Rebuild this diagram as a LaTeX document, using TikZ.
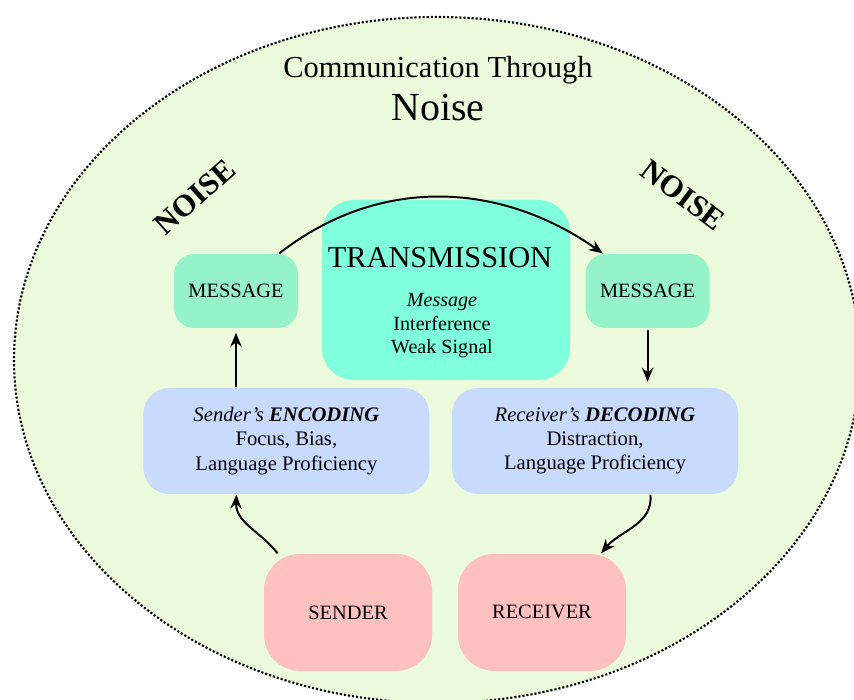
\documentclass[tikz,border=0pt]{standalone}
\usepackage{fontspec}
\setmainfont{Liberation Serif}
\usetikzlibrary{arrows.meta}
\definecolor{noisebg}{RGB}{235,251,219}
\definecolor{msggreen}{RGB}{150,242,200}
\definecolor{transcol}{RGB}{127,255,220}
\definecolor{codecol}{RGB}{201,218,255}
\definecolor{personcol}{RGB}{255,192,192}
\begin{document}
\begin{tikzpicture}
                            [thick,
                            box/.style = {align=center, inner sep=0pt},
                            msg/.style = {box, fill=msggreen, rounded corners=0.5cm,
                                        minimum width=3.1cm, minimum height=1.85cm,
                                        font=\fontsize{14.5}{17}\selectfont},
                            code/.style = {box, fill=codecol, rounded corners=0.65cm,
                                        minimum width=7.15cm, minimum height=2.65cm,
                                        font=\fontsize{14.7}{17.2}\selectfont},
                            person/.style = {box, fill=personcol, rounded corners=0.9cm,
                                        minimum width=4.2cm, minimum height=2.925cm,
                                        font=\fontsize{14.5}{17}\selectfont},
                            noise/.style = {font=\fontsize{22}{24}\selectfont\bfseries},
                            flow/.style = {-{Stealth[length=10pt,width=8pt]}, line width=1.4pt}]
                            \useasboundingbox (0,0) rectangle (21.35,-17.5);
                            \draw[fill=noisebg, line width=1.5pt, dash pattern=on 1.5pt off 1.4pt] (10.925,-9.0) ellipse (10.575 and 8.575);
                            \node[font=\fontsize{21.7}{24}\selectfont] (title) at (10.95,-1.75) {Communication Through};
                            \node[font=\fontsize{28.3}{30}\selectfont] (titlenoise) at (10.95,-2.7) {Noise};
                            \node[noise, rotate=42] (noiseL) at (4.875,-4.925) {NOISE};
                            \node[noise, rotate=-37] (noiseR) at (17.075,-4.875) {NOISE};
                            \node[box, fill=transcol, rounded corners=0.8cm,
                                minimum width=6.2cm, minimum height=4.5cm] (trans) at (11.15,-7.25) {};
                            \node[font=\fontsize{21.6}{24}\selectfont] (transtitle) at (11.0,-6.45) {TRANSMISSION};
                            \node[align=center, font=\fontsize{14.3}{16.7}\selectfont] (transbody) at (11.05,-8.15)
                                {\textit{Message}\\Interference\\Weak Signal};
                            \node[msg] (msgL) at (5.9,-7.275) {MESSAGE};
                            \node[msg] (msgR) at (16.19,-7.275) {MESSAGE};
                            \node[code] (enc) at (7.16,-11.025)
                                {\textit{Sender's \textbf{ENCODING}}\\Focus, Bias,\\Language Proficiency};
                            \node[code] (dec) at (14.875,-11.025)
                                {\textit{Receiver's \textbf{DECODING}}\\Distraction,\\Language Proficiency};
                            \node[person] (sender) at (8.7,-15.31) {SENDER};
                            \node[person] (receiver) at (13.55,-15.31) {RECEIVER};
                            \draw[flow] (msgL.41) to[out=38,in=145] (msgR.140);
                            \draw[flow, shorten >=3pt] (msgL.south |- enc.north) -- (msgL.south);
                            \draw[flow, shorten <=1pt, shorten >=4pt] (msgR.south) -- (msgR.south |- dec.north);
                            \draw[flow] (dec.-44) to[out=-85,in=50] (receiver.45);
                            \draw[flow] (sender.140) to[out=128,in=-92] (enc.227);
                        \end{tikzpicture}
\end{document}
